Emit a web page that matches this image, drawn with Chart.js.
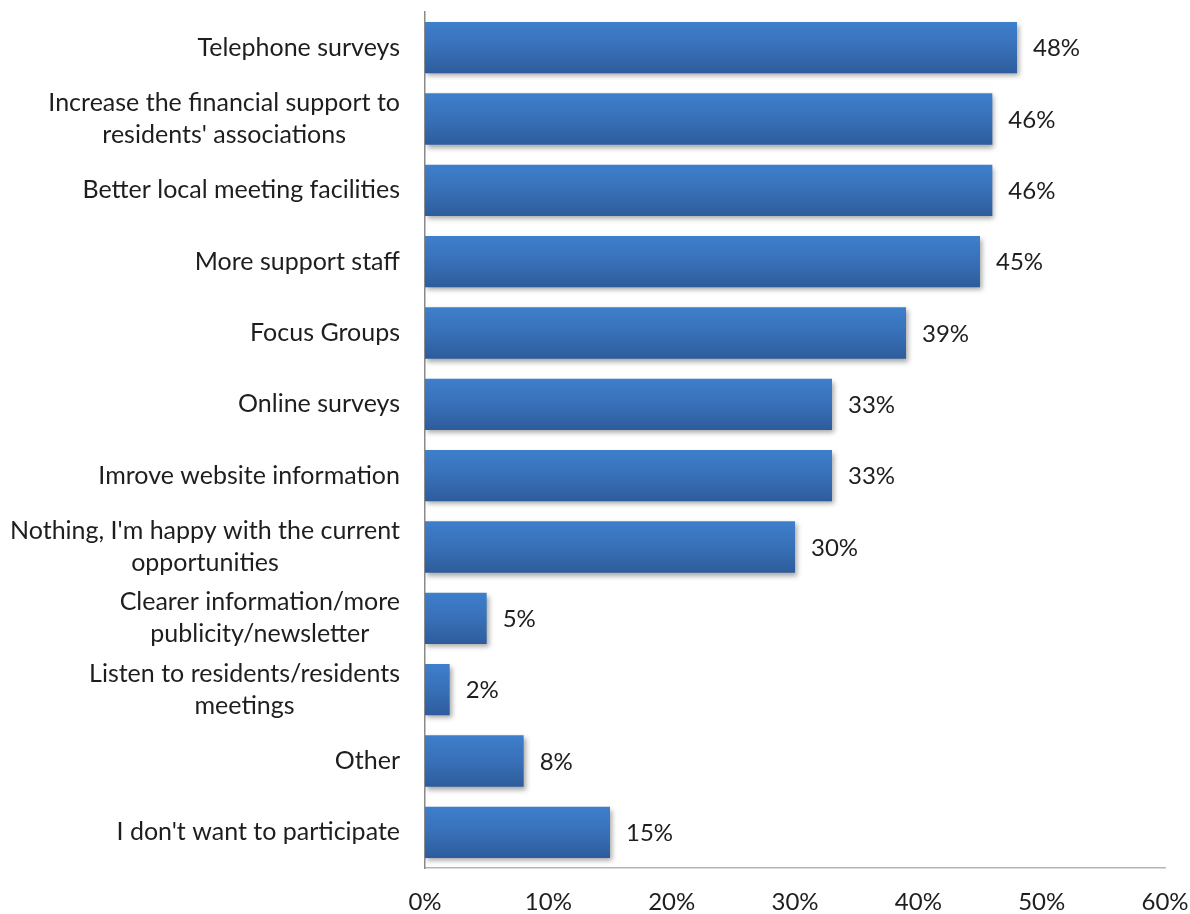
<!DOCTYPE html>
<html>
<head>
<meta charset="utf-8">
<script src="https://cdn.jsdelivr.net/npm/chart.js@4/dist/chart.umd.min.js"></script>
<style>
  html, body { margin: 0; padding: 0; background: #fff; }
  #wrap { width: 1190px; height: 914px; position: relative; }
</style>
</head>
<body>
<div id="wrap"><canvas id="chart"></canvas></div>
<script>
// --- Survey answers: what would help residents take part ---

const categories = [
    ['Telephone surveys'],
    ['Increase the financial support to', "residents' associations"],
    ['Better local meeting facilities'],
    ['More support staff'],
    ['Focus Groups'],
    ['Online surveys'],
    ['Imrove website information'],
    ["Nothing, I'm happy with the current", 'opportunities'],
    ['Clearer information/more', 'publicity/newsletter'],
    ['Listen to residents/residents', 'meetings'],
    ['Other'],
    ["I don't want to participate"]
];
const percentValues = [48, 46, 46, 45, 39, 33, 33, 30, 5, 2, 8, 15];
const xTicks = [0, 10, 20, 30, 40, 50, 60];

const FONT = 'Lato, "Open Sans", sans-serif';
const TEXT = '#1e1e1e';
const BAR_PCT = 0.72;

// vertical gradient per bar, light on top, darker at the bottom
function barGradient(c) {
    const chart = c.chart;
    const y = chart.scales.y;
    if (!chart.chartArea || !y) return '#3a73bd';
    const band = (chart.chartArea.bottom - chart.chartArea.top) / categories.length;
    const yc = y.getPixelForValue(c.dataIndex);
    const g = chart.ctx.createLinearGradient(0, yc - band * BAR_PCT / 2, 0, yc + band * BAR_PCT / 2);
    g.addColorStop(0, '#3e7fcc');
    g.addColorStop(0.5, '#3870b8');
    g.addColorStop(1, '#2d5c9b');
    return g;
}

// soft drop shadow under the bars
const barShadow = {
    id: 'barShadow',
    beforeDatasetDraw(chart) {
        const ctx = chart.ctx;
        ctx.save();
        ctx.shadowColor = 'rgba(0,0,0,0.35)';
        ctx.shadowBlur = 5;
        ctx.shadowOffsetX = 2;
        ctx.shadowOffsetY = 3;
    },
    afterDatasetDraw(chart) {
        chart.ctx.restore();
    }
};

// category labels: each block right-aligned to the axis, lines centred inside it
const categoryLabels = {
    id: 'categoryLabels',
    afterDraw(chart) {
        const ctx = chart.ctx;
        const y = chart.scales.y;
        const right = chart.chartArea.left - 25;
        const lineH = 32;
        ctx.save();
        ctx.font = '25px ' + FONT;
        ctx.fillStyle = TEXT;
        ctx.textAlign = 'center';
        ctx.textBaseline = 'middle';
        categories.forEach((lines, i) => {
            const w = Math.max(...lines.map(l => ctx.measureText(l).width));
            const cx = right - w / 2;
            const yc = y.getPixelForValue(i);
            const top = yc - (lines.length - 1) * lineH / 2;
            lines.forEach((l, k) => ctx.fillText(l, cx, top + k * lineH));
        });
        ctx.restore();
    }
};

// value labels to the right of each bar
const valueLabels = {
    id: 'valueLabels',
    afterDatasetsDraw(chart) {
        const ctx = chart.ctx;
        const meta = chart.getDatasetMeta(0);
        ctx.save();
        ctx.font = '24px ' + FONT;
        ctx.fillStyle = TEXT;
        ctx.textAlign = 'left';
        ctx.textBaseline = 'middle';
        meta.data.forEach((bar, i) => {
            ctx.fillText(percentValues[i] + '%', bar.x + 16, bar.y + 1);
        });
        ctx.restore();
    }
};

new Chart(document.getElementById('chart'), {
    type: 'bar',
    data: {
        labels: categories,
        datasets: [{
            data: percentValues,
            backgroundColor: barGradient,
            borderWidth: 0,
            barPercentage: BAR_PCT,
            categoryPercentage: 1
        }]
    },
    options: {
        indexAxis: 'y',
        responsive: true,
        maintainAspectRatio: false,
        animation: false,
        layout: { padding: { top: 12, right: 0, bottom: 0, left: 0 } },
        plugins: {
            legend: { display: false },
            tooltip: { enabled: false }
        },
        scales: {
            x: {
                min: 0,
                max: 60,
                afterBuildTicks: s => { s.ticks = xTicks.map(v => ({ value: v })); },
                afterFit: s => {
                    s.height = 46;
                    s.paddingLeft = 0;
                    s.paddingRight = 25;
                },
                grid: { display: false, drawTicks: false },
                border: { display: true, color: '#b5b5b5', width: 1.5 },
                ticks: {
                    callback: v => v + '%',
                    font: { size: 24, family: FONT },
                    color: TEXT,
                    padding: 20,
                    maxRotation: 0
                }
            },
            y: {
                grid: { display: false, drawTicks: false },
                border: { display: true, color: '#8a8a8a', width: 1.5 },
                ticks: { display: false },
                afterFit: s => { s.width = 425; }
            }
        }
    },
    plugins: [barShadow, categoryLabels, valueLabels]
});
</script>
</body>
</html>
